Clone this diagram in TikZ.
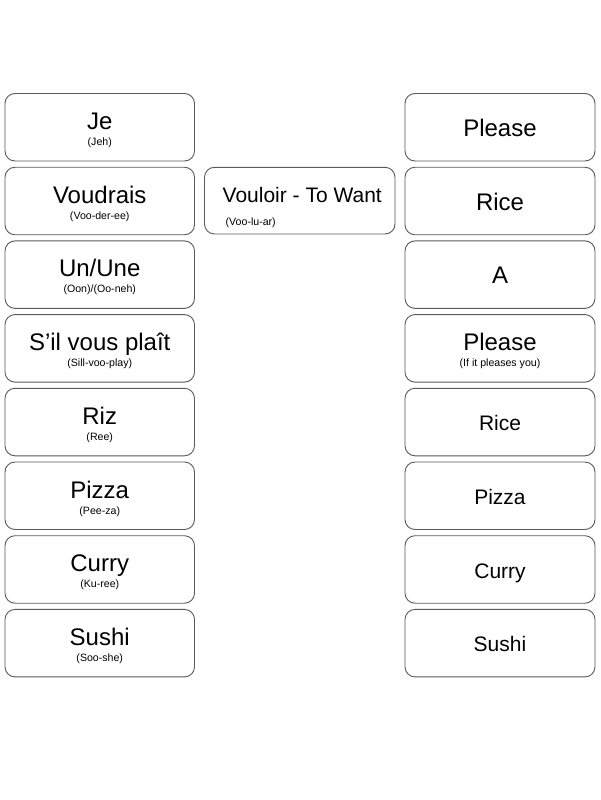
\documentclass[tikz,border=0pt]{standalone}
\usepackage{fontspec}
\setmainfont{Liberation Sans}
\definecolor{cardline}{HTML}{5A5A5A}
\tikzset{
    card/.style={draw=cardline, line width=0.9pt, rounded corners=10pt, fill=white,
        minimum width=189.5pt, minimum height=67.5pt, inner sep=0pt},
    word/.style={inner sep=0pt, anchor=base, font=\fontsize{24}{28}\selectfont},
    wordsm/.style={inner sep=0pt, anchor=base, font=\fontsize{21}{25}\selectfont},
    sound/.style={inner sep=0pt, anchor=base, font=\fontsize{10.6}{12}\selectfont},
}
\begin{document}
\begin{tikzpicture}[x=1pt, y=-1pt]
    \path[fill=white] (0,0) rectangle (600,800);
    \useasboundingbox (0,0) rectangle (600,800);

    % french words
    \node[card] (je) at (99.75, 127.25) {};
    \node[card] (voudrais) at (99.75, 201.0) {};
    \node[card] (unune) at (99.75, 274.65) {};
    \node[card] (silvous) at (99.75, 348.35) {};
    \node[card] (riz) at (99.75, 422.05) {};
    \node[card] (pizza) at (99.75, 495.75) {};
    \node[card] (curry) at (99.75, 569.45) {};
    \node[card] (sushi) at (99.75, 643.15) {};

    \node[word] (je-w) at (99.75, 129.5) {Je};
    \node[sound] (je-s) at (99.75, 145.5) {(Jeh)};
    \node[word] (voudrais-w) at (99.75, 203.2) {Voudrais};
    \node[sound] (voudrais-s) at (99.75, 219.2) {(Voo-der-ee)};
    \node[word] (unune-w) at (99.75, 276.9) {Un/Une};
    \node[sound] (unune-s) at (99.75, 292.9) {(Oon)/(Oo-neh)};
    \node[word] (silvous-w) at (99.75, 350.6) {S’il vous plaît};
    \node[sound] (silvous-s) at (99.75, 366.6) {(Sill-voo-play)};
    \node[word] (riz-w) at (99.75, 424.3) {Riz};
    \node[sound] (riz-s) at (99.75, 440.3) {(Ree)};
    \node[word] (pizza-w) at (99.75, 498.0) {Pizza};
    \node[sound] (pizza-s) at (99.75, 514.0) {(Pee-za)};
    \node[word] (curry-w) at (99.75, 571.7) {Curry};
    \node[sound] (curry-s) at (99.75, 587.7) {(Ku-ree)};
    \node[word] (sushi-w) at (99.75, 645.4) {Sushi};
    \node[sound] (sushi-s) at (99.75, 661.4) {(Soo-she)};

    % verb
    \node[card, minimum width=190.5pt, minimum height=66.7pt] (vouloir) at (299.75, 200.65) {};
    \node[wordsm, anchor=base west] (vouloir-w) at (222.5, 202.7) {Vouloir - To Want};
    \node[sound, anchor=base west] (vouloir-s) at (225.5, 225.5) {(Voo-lu-ar)};

    % english words
    \node[card, minimum width=190pt] (please) at (500, 127.25) {};
    \node[card, minimum width=190pt] (rice) at (500, 201.0) {};
    \node[card, minimum width=190pt] (a) at (500, 274.65) {};
    \node[card, minimum width=190pt] (pleaseb) at (500, 348.35) {};
    \node[card, minimum width=190pt] (riceb) at (500, 422.05) {};
    \node[card, minimum width=190pt] (pizzab) at (500, 495.75) {};
    \node[card, minimum width=190pt] (curryb) at (500, 569.45) {};
    \node[card, minimum width=190pt] (sushib) at (500, 643.15) {};

    \node[word] (please-w) at (500, 136.5) {Please};
    \node[word] (rice-w) at (500, 210.2) {Rice};
    \node[word] (a-w) at (500, 283.9) {A};
    \node[word] (pleaseb-w) at (500, 350.3) {Please};
    \node[sound] (pleaseb-s) at (500, 366.3) {(If it pleases you)};
    \node[wordsm] (riceb-w) at (500, 430.6) {Rice};
    \node[wordsm] (pizzab-w) at (500, 504.3) {Pizza};
    \node[wordsm] (curryb-w) at (500, 578.0) {Curry};
    \node[wordsm] (sushib-w) at (500, 651.7) {Sushi};
\end{tikzpicture}
\end{document}
